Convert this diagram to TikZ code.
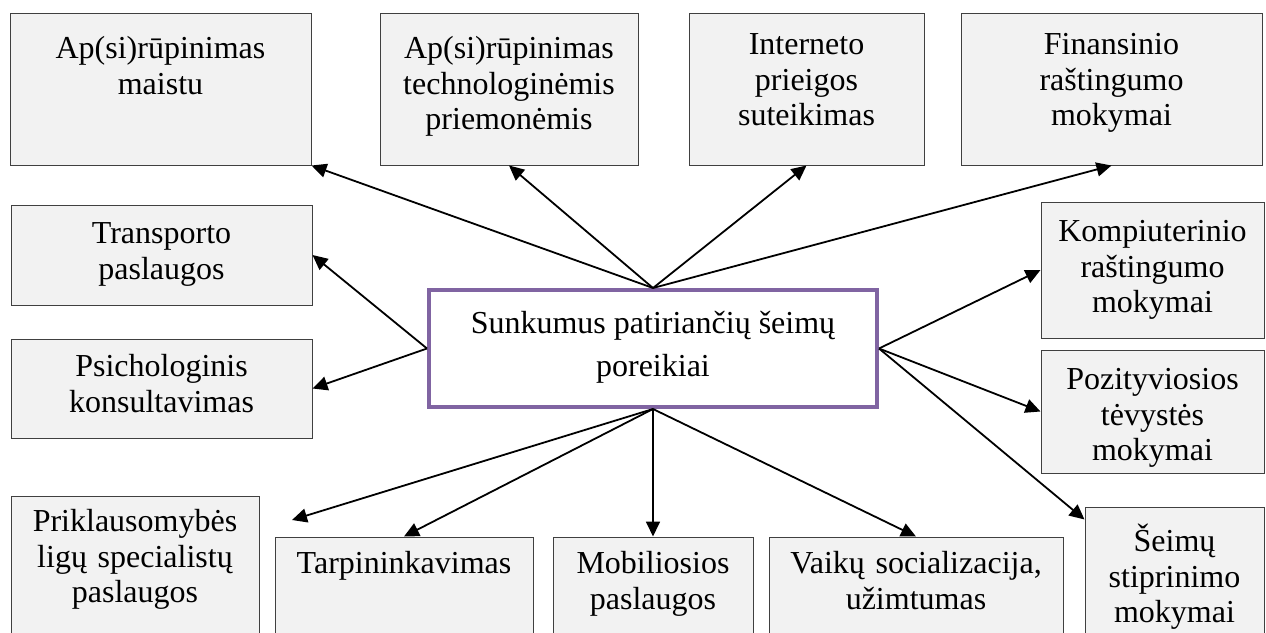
\documentclass[tikz,border=0pt]{standalone}
\usepackage{fontspec}
\setmainfont{Liberation Serif}
\usetikzlibrary{arrows.meta}
\definecolor{boxfill}{HTML}{F2F2F2}
\definecolor{boxline}{HTML}{404040}
\definecolor{kernline}{HTML}{8064A2}

\begin{document}
\begin{tikzpicture}[x=0.5pt,y=-0.5pt,
    box/.style={draw=boxline,fill=boxfill,line width=0.5pt,inner sep=0pt},
    txt/.style={anchor=base,align=center,inner sep=0pt,font=\fontsize{16}{17.75}\selectfont},
    arr/.style={line width=0.9pt,-{Triangle[length=7.5pt,width=7pt]}}]
    \useasboundingbox (0,0) rectangle (1266,633);
    \clip (0,0) rectangle (1266,633);

    % centre
    \node (kern) at (653,348.5) [draw=kernline,line width=2pt,fill=white,minimum width=224pt,minimum height=58.5pt,align=center,font=\fontsize{16}{21.5}\selectfont] {Sunkumus patiriančių šeimų\\poreikiai\rule[-5pt]{0pt}{1pt}};

    % top row
    \node (maist) at (160.5,89) [box,minimum width=150.5pt,minimum height=76pt] {};
    \node (techn) at (509,89) [box,minimum width=129pt,minimum height=76pt] {};
    \node (intern) at (806.5,89) [box,minimum width=117.5pt,minimum height=76pt] {};
    \node (finans) at (1111.5,89) [box,minimum width=150.5pt,minimum height=76pt] {};

    \node (maist-t) at ([yshift=-23pt]maist.north) [txt,text width=150pt] {Ap(si)rūpinimas\\maistu};
    \node (techn-t) at ([yshift=-23pt]techn.north) [txt,text width=129pt] {Ap(si)rūpinimas\\technologinėmis\\priemonėmis};
    \node (intern-t) at ([yshift=-21pt]intern.north) [txt,text width=117pt] {Interneto\\prieigos\\suteikimas};
    \node (finans-t) at ([yshift=-21pt]finans.north) [txt,text width=150pt] {Finansinio\\raštingumo\\mokymai};

    % left side
    \node (transp) at (161.5,255) [box,minimum width=150.5pt,minimum height=50pt] {};
    \node (psich) at (161.5,388.5) [box,minimum width=150.5pt,minimum height=49.5pt] {};

    \node (transp-t) at ([yshift=-19.5pt]transp.north) [txt,text width=150pt] {Transporto\\paslaugos};
    \node (psich-t) at ([yshift=-19pt]psich.north) [txt,text width=150pt] {Psichologinis\\konsultavimas};

    % right side
    \node (komp) at (1152.5,270) [box,minimum width=111.5pt,minimum height=68pt] {};
    \node (pozit) at (1152.5,411.5) [box,minimum width=111.5pt,minimum height=61.5pt] {};
    \node (seim) at (1174.5,583.5) [box,minimum width=89.5pt,minimum height=76.5pt] {};

    \node (komp-t) at ([yshift=-20pt]komp.north) [txt,text width=111pt] {Kompiuterinio\\raštingumo\\mokymai};
    \node (pozit-t) at ([yshift=-20pt]pozit.north) [txt,text width=111pt] {Pozityviosios\\tėvystės\\mokymai};
    \node (seim-t) at ([yshift=-22.5pt]seim.north) [txt,text width=89pt] {Šeimų\\stiprinimo\\mokymai};

    % bottom row
    \node (prikl) at (135,578) [box,minimum width=124pt,minimum height=82pt] {};
    \node (tarp) at (404,598.5) [box,minimum width=129pt,minimum height=61.5pt] {};
    \node (mob) at (653,598.5) [box,minimum width=100pt,minimum height=61.5pt] {};
    \node (vaik) at (916,598.5) [box,minimum width=147pt,minimum height=61.5pt] {};

    \node (prikl-t) at ([yshift=-18pt]prikl.north) [txt,text width=124pt] {Priklausomybės\\ligų specialistų\\paslaugos};
    \node (tarp-t) at ([yshift=-18.5pt]tarp.north) [txt,text width=129pt] {Tarpininkavimas};
    \node (mob-t) at ([yshift=-18.5pt]mob.north) [txt,text width=100pt] {Mobiliosios\\paslaugos};
    \node (vaik-t) at ([yshift=-18.5pt]vaik.north) [txt,text width=147pt] {Vaikų socializacija,\\užimtumas};

    \coordinate (prikl-end) at (292,520);

    % arrows
    \draw[arr] (kern.north) -- (maist.south east);
    \draw[arr] (kern.north) -- (techn.south);
    \draw[arr] (kern.north) -- (intern.south);
    \draw[arr] (kern.north) -- (finans.south);
    \draw[arr] (kern.west) -- (transp.east);
    \draw[arr] (kern.west) -- (psich.east);
    \draw[arr] (kern.east) -- (komp.west);
    \draw[arr] (kern.east) -- (pozit.west);
    \draw[arr] (kern.east) -- ([yshift=-6.5pt]seim.north west);
    \draw[arr] (kern.south) -- (prikl-end);
    \draw[arr] (kern.south) -- (tarp.north);
    \draw[arr] (kern.south) -- (mob.north);
    \draw[arr] (kern.south) -- (vaik.north);
\end{tikzpicture}
\end{document}
